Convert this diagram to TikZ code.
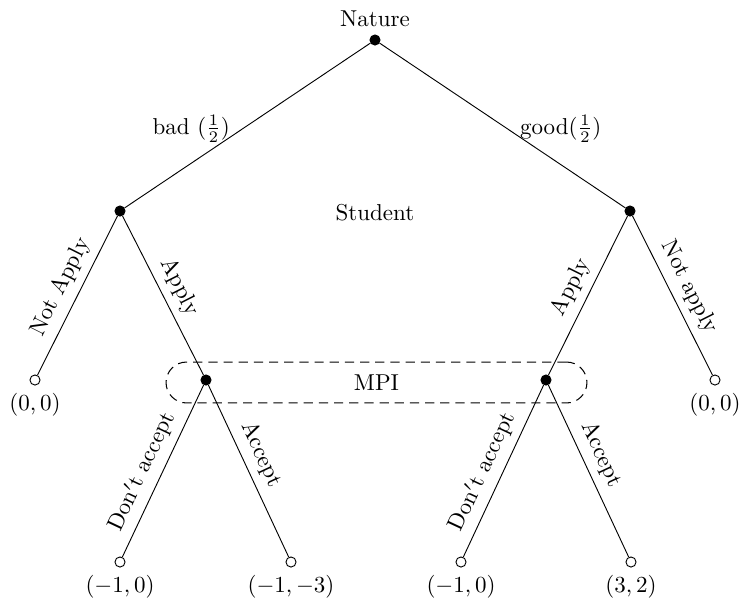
\documentclass[tikz,border=0pt]{standalone}
\usepackage{amsmath,amssymb}
\usepackage{tikz}
\usetikzlibrary{positioning}

\begin{document}
\begin{tikzpicture}[
  x=0.435pt,y=-0.435pt,
  dec/.style={circle,fill=black,draw,inner sep=0pt,minimum size=4.4pt},
  term/.style={circle,fill=white,draw,inner sep=0pt,minimum size=4.4pt},
  infoset/.style={draw,line width=0.45pt,dash pattern=on 4pt off 2.6pt,rounded corners=8.9pt,minimum width=183.1pt,minimum height=17.8pt,inner sep=0pt}]
\useasboundingbox (0,0) rectangle (740,601);
% information set first, so the dots sit on top
\node[infoset] (mpi) at (376.5,382.5) {MPI};
% decision nodes
\node[dec,label={above:Nature}] (nat) at (375,40) {};
\node[dec] (s1) at (120,211) {};
\node[dec] (s2) at (630,211) {};
\node[dec] (m1) at (206,380) {};
\node[dec] (m2) at (546,380) {};
\node (stud) at (375,213) {Student};
% terminal nodes
\node[term,label=below:{$(0,0)$}] (l1) at (35,380) {};
\node[term,label=below:{$(0,0)$}] (l2) at (715,380) {};
\node[term,label=below:{$(-1,0)$}] (b1) at (120,562) {};
\node[term,label=below:{$(-1,-3)$}] (b2) at (291,562) {};
\node[term,label=below:{$(-1,0)$}] (b3) at (461,562) {};
\node[term,label=below:{$(3,2)$}] (b4) at (631,562) {};
% branches
\draw (nat) -- node[pos=.52,left,xshift=-2pt] {bad $(\frac{1}{2})$} (s1);
\draw (nat) -- node[pos=.52,right,xshift=2pt] {good$(\frac{1}{2})$} (s2);
\draw (s1) -- node[sloped,above] {Not Apply} (l1);
\draw (s1) -- node[sloped,above] {Apply} (m1);
\draw (s2) -- node[sloped,above] {Apply} (m2);
\draw (s2) -- node[sloped,above] {Not apply} (l2);
\draw (m1) -- node[pos=.55,sloped,above] {Don$'$t accept} (b1);
\draw (m1) -- node[pos=.45,sloped,above] {Accept} (b2);
\draw (m2) -- node[pos=.55,sloped,above] {Don$'$t accept} (b3);
\draw (m2) -- node[pos=.45,sloped,above] {Accept} (b4);
\end{tikzpicture}
\end{document}
